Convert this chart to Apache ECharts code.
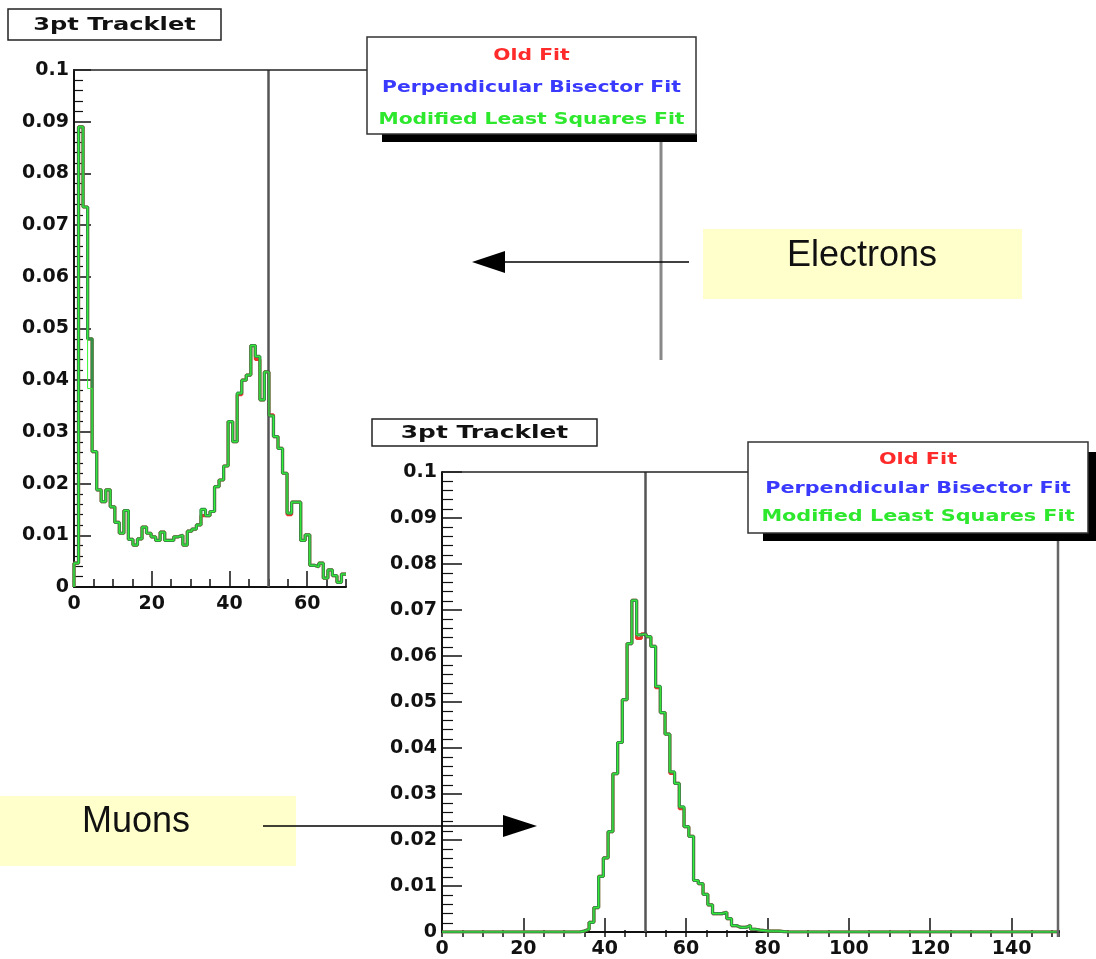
<!DOCTYPE html>
<html><head><meta charset="utf-8">
<script src="https://cdn.jsdelivr.net/npm/echarts@6/dist/echarts.min.js"></script>
<style>html,body{margin:0;padding:0;background:#fff}#c{width:1096px;height:959px}</style>
</head><body><div id="c"></div>
<script>
// ---------------- data ----------------
const seriesNames = ['Old Fit', 'Perpendicular Bisector Fit', 'Modified Least Squares Fit'];
const titleText = '3pt Tracklet';
const cutValue = 50;

// Top panel ("Electrons"): 60 bins over [0, 70]
const topRange = [0, 70];
const topXTicks = [0, 20, 40, 60];
const topOldFit = [0.0046,0.0890,0.0735,0.0480,0.0262,0.0188,0.0165,0.0188,0.0155,0.0125,
  0.0104,0.0148,0.0092,0.0081,0.0093,0.0116,0.0104,0.0097,0.0090,0.0106,
  0.0090,0.0090,0.0097,0.0100,0.0081,0.0108,0.0112,0.0120,0.0138,0.0138,
  0.0146,0.0194,0.0207,0.0234,0.0320,0.0281,0.0372,0.0400,0.0410,0.0467,
  0.0440,0.0362,0.0416,0.0333,0.0291,0.0268,0.0220,0.0140,0.0164,0.0164,
  0.0090,0.0101,0.0042,0.0039,0.0046,0.0017,0.0033,0.0022,0.0009,0.0025];
const topPerpFit = [0.0046,0.0890,0.0735,0.0480,0.0262,0.0188,0.0165,0.0188,0.0155,0.0125,
  0.0104,0.0148,0.0092,0.0081,0.0093,0.0116,0.0104,0.0097,0.0090,0.0106,
  0.0090,0.0090,0.0097,0.0100,0.0081,0.0108,0.0112,0.0120,0.0150,0.0138,
  0.0146,0.0194,0.0207,0.0234,0.0320,0.0281,0.0375,0.0400,0.0410,0.0467,
  0.0446,0.0362,0.0416,0.0331,0.0291,0.0268,0.0220,0.0143,0.0164,0.0164,
  0.0090,0.0101,0.0042,0.0039,0.0046,0.0017,0.0033,0.0022,0.0009,0.0025];
const topModFit = [0.0046,0.0890,0.0735,0.0384,0.0262,0.0188,0.0165,0.0188,0.0155,0.0125,
  0.0104,0.0148,0.0092,0.0081,0.0093,0.0116,0.0104,0.0097,0.0090,0.0106,
  0.0090,0.0090,0.0097,0.0100,0.0081,0.0108,0.0112,0.0120,0.0150,0.0138,
  0.0146,0.0194,0.0207,0.0234,0.0320,0.0281,0.0375,0.0400,0.0410,0.0467,
  0.0446,0.0362,0.0416,0.0331,0.0291,0.0268,0.0220,0.0143,0.0164,0.0164,
  0.0090,0.0101,0.0042,0.0039,0.0046,0.0017,0.0033,0.0022,0.0009,0.0025];

// Bottom panel ("Muons"): 130 bins over [0, 151.67]
const bottomRange = [0, 151.67];
const bottomXTicks = [0, 20, 40, 60, 80, 100, 120, 140];
const bottomOldFit = [0,0,0,0,0,0,0,0,0,0, 0,0,0,0,0,0,0,0,0,0,
  0,0,0,0,0,0,0,0,0,0.0002,
  0.0006,0.0021,0.0053,0.0121,0.0161,0.0218,0.0344,0.0412,0.0505,0.0627,
  0.0721,0.0638,0.0648,0.0642,0.0621,0.0531,0.0477,0.0430,0.0345,0.0323,
  0.0268,0.0229,0.0208,0.0112,0.0105,0.0082,0.0059,0.0040,0.0040,0.0043,
  0.0029,0.0014,0.0010,0.0010,0.0014,0.0006,0.0004,0.0003,0.0002,0.0002,
  0.0002,0.0001,0,0,0,0,0,0,0,0,
  0,0,0,0,0,0,0,0,0,0, 0,0,0,0,0,0,0,0,0,0, 0,0,0,0,0,0,0,0,0,0,
  0,0,0,0,0,0,0,0,0,0, 0,0,0,0,0,0,0,0,0,0];
const bottomPerpFit = [0,0,0,0,0,0,0,0,0,0, 0,0,0,0,0,0,0,0,0,0,
  0,0,0,0,0,0,0,0,0,0.0002,
  0.0006,0.0021,0.0053,0.0121,0.0161,0.0218,0.0344,0.0412,0.0505,0.0627,
  0.0721,0.0646,0.0648,0.0642,0.0621,0.0534,0.0477,0.0430,0.0348,0.0323,
  0.0272,0.0229,0.0208,0.0112,0.0105,0.0082,0.0059,0.0040,0.0040,0.0043,
  0.0029,0.0014,0.0010,0.0010,0.0014,0.0006,0.0004,0.0003,0.0002,0.0002,
  0.0002,0.0001,0,0,0,0,0,0,0,0,
  0,0,0,0,0,0,0,0,0,0, 0,0,0,0,0,0,0,0,0,0, 0,0,0,0,0,0,0,0,0,0,
  0,0,0,0,0,0,0,0,0,0, 0,0,0,0,0,0,0,0,0,0];
const bottomModFit = [0,0,0,0,0,0,0,0,0,0, 0,0,0,0,0,0,0,0,0,0,
  0,0,0,0,0,0,0,0,0,0.0002,
  0.0006,0.0021,0.0053,0.0121,0.0161,0.0218,0.0344,0.0412,0.0505,0.0627,
  0.0721,0.0646,0.0648,0.0642,0.0621,0.0534,0.0477,0.0430,0.0348,0.0323,
  0.0272,0.0229,0.0208,0.0112,0.0105,0.0082,0.0059,0.0040,0.0040,0.0043,
  0.0029,0.0014,0.0010,0.0010,0.0014,0.0006,0.0004,0.0003,0.0002,0.0002,
  0.0002,0.0001,0,0,0,0,0,0,0,0,
  0,0,0,0,0,0,0,0,0,0, 0,0,0,0,0,0,0,0,0,0, 0,0,0,0,0,0,0,0,0,0,
  0,0,0,0,0,0,0,0,0,0, 0,0,0,0,0,0,0,0,0,0];

const annotations = ['Electrons', 'Muons'];

// ---------------- helpers ----------------
function histPoints(vals, range) {
  const w = (range[1] - range[0]) / vals.length;
  const pts = [[range[0], 0]];
  vals.forEach((v, i) => pts.push([range[0] + i * w, v]));
  pts.push([range[1], vals[vals.length - 1]]);
  return pts;
}
const lineColors = ['#e8352b', '#35914a', '#36f536'];
const lineWidths = [3.2, 3.2, 1.0];
const legendColors = ['#ff2a2a', '#3a3aff', '#2ee82e'];
const labelFont = { fontFamily: 'DejaVu Sans', fontWeight: 'bold', fontSize: 19, color: '#111' };

function makeSeries(sets, range, xi, yi) {
  return sets.map((vals, i) => {
    const s = {
      name: seriesNames[i], type: 'line', step: 'end', symbol: 'none',
      xAxisIndex: xi, yAxisIndex: yi, data: histPoints(vals, range),
      lineStyle: { color: lineColors[i], width: lineWidths[i] },
      itemStyle: { color: lineColors[i] }, z: 3 + i, animation: false, silent: true
    };
    if (i === 0) {
      s.markLine = {
        silent: true, symbol: ['none', 'none'], label: { show: false },
        lineStyle: { color: '#555', width: 2.5, type: 'solid' },
        data: [{ xAxis: cutValue }]
      };
    }
    return s;
  });
}

function majorX(grid, range, ticks, tickLen) {
  return {
    type: 'value', gridIndex: grid, min: range[0], max: range[1],
    axisLine: { show: true, lineStyle: { color: '#111', width: 2 } },
    axisTick: { show: true, inside: true, length: tickLen, customValues: ticks, lineStyle: { color: '#111', width: 1.5 } },
    axisLabel: Object.assign({ customValues: ticks, margin: 8 }, labelFont),
    splitLine: { show: false }
  };
}
function minorX(grid, range, tickLen) {
  return {
    type: 'value', gridIndex: grid, min: range[0], max: range[1], interval: 5,
    axisLine: { show: false },
    axisTick: { show: true, inside: true, length: tickLen, lineStyle: { color: '#111', width: 1.5 } },
    axisLabel: { show: false }, splitLine: { show: false }
  };
}
function mainY(grid, tickLen, minorLen) {
  return {
    type: 'value', gridIndex: grid, min: 0, max: 0.1, interval: 0.01,
    axisLine: { show: true, lineStyle: { color: '#111', width: 2 } },
    axisTick: { show: true, inside: true, length: tickLen, lineStyle: { color: '#111', width: 1.5 } },
    minorTick: { show: true, splitNumber: 5, length: minorLen, lineStyle: { color: '#111', width: 1.2 } },
    axisLabel: Object.assign({ margin: 5, formatter: v => String(Math.round(v * 100) / 100) }, labelFont),
    splitLine: { show: false }, minorSplitLine: { show: false }
  };
}
function hiddenY(grid) {
  return { type: 'value', gridIndex: grid, min: 0, max: 0.1, show: false };
}

// ---------------- decorations ----------------
function titleBox(x, y, w, h, sx) {
  return [
    { type: 'rect', z: 100, shape: { x: x, y: y, width: w, height: h }, style: { fill: '#fff', stroke: '#222', lineWidth: 1.5 } },
    { type: 'text', z: 101, x: x + w / 2, y: y + h / 2 + 1, scaleX: sx,
      style: { text: titleText, fill: '#111', fontFamily: 'DejaVu Sans', fontWeight: 'bold', fontSize: 17.5, align: 'center', verticalAlign: 'middle' } }
  ];
}
function legendBox(x, y, w, h, rows, sx, rightShadow) {
  const els = [
    { type: 'rect', z: 99, shape: { x: x + 15, y: y + h, width: w - 15 + (rightShadow ? 8 : 1), height: 8 }, style: { fill: '#000' } },
    { type: 'rect', z: 100, shape: { x: x, y: y, width: w, height: h }, style: { fill: '#fff', stroke: '#333', lineWidth: 1.5 } }
  ];
  if (rightShadow) els.push({ type: 'rect', z: 99, shape: { x: x + w, y: y + 10, width: 8, height: h - 2 }, style: { fill: '#000' } });
  seriesNames.forEach((n, i) => els.push({
    type: 'text', z: 101, x: x + w / 2, y: rows[i], scaleX: sx,
    style: { text: n, fill: legendColors[i], fontFamily: 'DejaVu Sans', fontWeight: 'bold', fontSize: 15.5, align: 'center', verticalAlign: 'middle' }
  }));
  return els;
}
function noteBox(x, y, w, h, text, tx, ty) {
  return [
    { type: 'rect', z: 100, shape: { x: x, y: y, width: w, height: h }, style: { fill: '#ffffcc' } },
    { type: 'text', z: 101, x: tx, y: ty,
      style: { text: text, fill: '#111', fontFamily: 'Liberation Sans', fontSize: 36, align: 'center', verticalAlign: 'middle' } }
  ];
}
function arrow(x1, x2, y, tipX, baseX) {
  return [
    { type: 'line', z: 100, shape: { x1: x1, y1: y, x2: x2, y2: y }, style: { stroke: '#000', lineWidth: 1.5 } },
    { type: 'polygon', z: 100, shape: { points: [[tipX, y], [baseX, y - 11], [baseX, y + 11]] }, style: { fill: '#000' } }
  ];
}
function seg(x1, y1, x2, y2, color, w) {
  return { type: 'line', z: 50, shape: { x1, y1, x2, y2 }, style: { stroke: color, lineWidth: w } };
}

const graphics = [].concat(
  seg(73, 70, 367, 70, '#222', 1.5),
  seg(661, 142, 661, 360, '#888', 3),
  seg(442, 472, 748, 472, '#222', 1.5),
  seg(1058, 541, 1058, 937, '#666', 2.5),
  titleBox(8, 9, 213, 31, 1.38),
  titleBox(372, 419, 225, 27, 1.42),
  legendBox(367, 37, 329, 97, [56, 88, 120], 1.31, false),
  legendBox(748, 442, 340, 91, [460, 489, 517], 1.34, true),
  noteBox(703, 229, 319, 70, annotations[0], 862, 256),
  noteBox(0, 796, 296, 70, annotations[1], 136, 822),
  arrow(505, 689, 262, 472, 505),
  arrow(263, 503, 826, 537, 503)
);

const chart = echarts.init(document.getElementById('c'), null, { renderer: 'canvas' });
chart.setOption({
  backgroundColor: '#fff',
  animation: false,
  grid: [
    { left: 74, top: 70, width: 272, height: 517 },
    { left: 442, top: 472, width: 617, height: 465 },
    { left: 74, top: 70, width: 272, height: 517 },
    { left: 442, top: 472, width: 617, height: 465 }
  ],
  xAxis: [
    majorX(0, topRange, topXTicks, 16),
    majorX(1, bottomRange, bottomXTicks, 14),
    minorX(2, topRange, 8),
    minorX(3, bottomRange, 7)
  ],
  yAxis: [
    mainY(0, 17, 9),
    mainY(1, 20, 11),
    hiddenY(2),
    hiddenY(3)
  ],
  series: [].concat(
    makeSeries([topOldFit, topPerpFit, topModFit], topRange, 0, 0),
    makeSeries([bottomOldFit, bottomPerpFit, bottomModFit], bottomRange, 1, 1)
  ),
  graphic: graphics
});
</script></body></html>
